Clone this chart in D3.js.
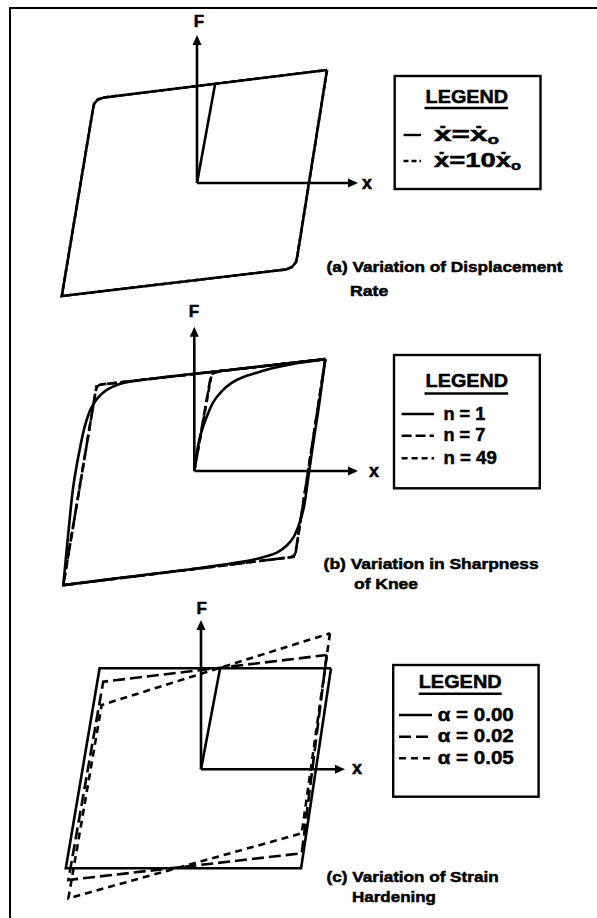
<!DOCTYPE html>
<html>
<head>
<meta charset="utf-8">
<script src="https://cdn.jsdelivr.net/npm/d3@7"></script>
<style>
  html, body { margin: 0; padding: 0; background: #fff; }
  svg { display: block; }
  text { font-family: "Liberation Sans", Arial, sans-serif; font-weight: bold; fill: #000;
         stroke: #000; stroke-width: 0.5px; }
</style>
</head>
<body>
<script>
// ---------- Data: hysteresis loops in normalized units (x = displacement, F = force) ----------

// (a) displacement rate: the model is rate independent, both rates trace the same loop
const rateSlowLoop = [[1.00,1.00],[0.773,-0.637],[0.762,-0.699],[0.731,-0.743],[0.685,-0.765],
  [-1.04,-1.00],[-0.804,0.628],[-0.792,0.699],[-0.762,0.739],[-0.715,0.757],[1.00,1.00]];
const rateFastLoop = [[1.00,1.00],[0.773,-0.637],[0.762,-0.699],[0.731,-0.743],[0.685,-0.765],
  [-1.04,-1.00],[-0.804,0.628],[-0.792,0.699],[-0.762,0.739],[-0.715,0.757],[1.00,1.00]];
const rateLoading = [[0,0],[0.14,0.88]];

// (b) sharpness of knee
const kneeN1Down = [[1.00,0.99],[0.947,0.54],[0.904,0.215],[0.865,-0.10],[0.835,-0.33],[0.80,-0.47],
  [0.76,-0.58],[0.71,-0.655],[0.64,-0.715],[0.55,-0.755],[0.45,-0.785],[0.044,-0.858],[-0.5,-0.936],[-1.00,-1.01]];
const kneeN1Up = [[-1.00,-1.01],[-0.962,-0.551],[-0.924,-0.139],[-0.88,0.16],[-0.835,0.40],[-0.79,0.55],
  [-0.735,0.65],[-0.665,0.72],[-0.57,0.77],[-0.44,0.80],[0.3,0.898],[1.00,0.99]];
const kneeN1Loading = [[0,0],[0.023,0.186],[0.051,0.333],[0.095,0.48],[0.145,0.61],[0.209,0.705],
  [0.285,0.78],[0.374,0.832],[0.476,0.87],[0.603,0.912],[0.75,0.948],[1.00,0.99]];
const kneeN7Loop = [[1.00,0.99],[0.776,-0.70],[0.766,-0.742],[0.74,-0.762],[0.70,-0.768],
  [-1.00,-1.01],[-0.754,0.70],[-0.744,0.742],[-0.725,0.762],[-0.69,0.768],[1.00,0.99]];
const kneeN7Loading = [[0,0],[0.12,0.80],[0.14,0.862],[0.2,0.884],[1.00,0.99]];
const kneeN49Loop = [[1.00,0.99],[0.769,-0.758],[-1.00,-1.01],[-0.745,0.761],[1.00,0.99]];
const kneeN49Loading = [[0,0],[0.135,0.876]];

// (c) strain hardening
const hardA000Loop = [[1.00,1.01],[0.77,-0.99],[-1.04,-0.99],[-0.78,1.01],[1.00,1.01]];
const hardA002Loop = [[0.967,1.143],[0.775,-0.84],[-1.02,-1.107],[-0.752,0.876],[0.967,1.143]];
const hardA005Loop = [[0.992,1.36],[0.775,-0.64],[-1.02,-1.29],[-0.764,0.643],[0.992,1.36]];
const hardLoading = [[0,0],[0.147,1.01]];

// Legend and caption texts
const legendTitle = "LEGEND";
const rateLabels = [["ẋ=ẋ", "o"], ["ẋ=10ẋ", "o"]];
const kneeLabels = ["n = 1", "n = 7", "n = 49"];
const hardLabels = ["α = 0.00", "α = 0.02", "α = 0.05"];
const captions = [
  ["(a) Variation of Displacement", "Rate"],
  ["(b) Variation in Sharpness", "of Knee"],
  ["(c) Variation of Strain", "Hardening"]
];

// ---------- Layout ----------
const W = 597, H = 918;
const STROKE = 2.6;
const DASH = { solid: null, rate: "5,3", n7: "10,4", n49: "6,4", a002: "12,5", a005: "7,5" };

const panels = [
  { ox: 197, oy: 183, sx: 130, sy: 113, fTip: 35, xTip: 358,
    fLab: [199, 27], xLab: [367, 188.5],
    box: [394.7, 76, 145.8, 113], title: [466.9, 103.3, 82.6], uline: [424.5, 508.2, 108],
    sample: [403.5, 421], rowsY: [135, 161], textX: 434, textW: [65, 87], rowFont: 21,
    cap: [[326.6, 272, 236], [350, 296, 38.3]] },
  { ox: 194.3, oy: 471, sx: 131, sy: 113, fTip: 326.7, xTip: 358,
    fLab: [194, 317], xLab: [374, 477],
    box: [394, 355, 145.8, 133.3], title: [466.9, 386.7, 82.6], uline: [424.5, 508.2, 393.5],
    sample: [401.6, 434], rowsY: [414, 435.7, 458.3], textX: 443.5, textW: [41.8, 41.8, 53.3], rowFont: 19,
    cap: [[323.6, 569, 215], [354, 588.5, 64]] },
  { ox: 201, oy: 769.3, sx: 130, sy: 100, fTip: 620, xTip: 345,
    fLab: [201.7, 613.5], xLab: [357, 774],
    box: [393.2, 665, 145.4, 131.7], title: [460.2, 688.3, 83], uline: [418.7, 501.7, 693.8],
    sample: [399, 432], rowsY: [715, 736.7, 758.3], textX: 437.8, textW: [76, 76, 76], rowFont: 19,
    cap: [[326.6, 881.5, 172], [352, 902, 84]] }
];

const svg = d3.select("body").append("svg").attr("width", W).attr("height", H);

// page frame (left and top edges)
svg.append("path").attr("d", `M10,${H} L10,8 L${W},8`)
  .attr("fill", "none").attr("stroke", "#000").attr("stroke-width", 2);

function scalesFor(p) {
  return {
    x: d3.scaleLinear().domain([-1, 1]).range([p.ox - p.sx, p.ox + p.sx]),
    y: d3.scaleLinear().domain([-1, 1]).range([p.oy + p.sy, p.oy - p.sy])
  };
}

function drawSeries(g, s, pts, dash, curve) {
  const line = d3.line().x(d => s.x(d[0])).y(d => s.y(d[1])).curve(curve || d3.curveLinear);
  g.append("path").attr("d", line(pts))
    .attr("fill", "none").attr("stroke", "#000").attr("stroke-width", STROKE)
    .attr("stroke-linejoin", "miter").attr("stroke-dasharray", dash);
}

function drawAxes(g, p) {
  const ah = 10, aw = 4.5;
  g.append("line").attr("x1", p.ox).attr("y1", p.oy).attr("x2", p.ox).attr("y2", p.fTip + ah - 1)
    .attr("stroke", "#000").attr("stroke-width", STROKE);
  g.append("path").attr("d", `M${p.ox},${p.fTip} L${p.ox - aw},${p.fTip + ah} L${p.ox + aw},${p.fTip + ah} Z`);
  g.append("line").attr("x1", p.ox).attr("y1", p.oy).attr("x2", p.xTip - ah + 1).attr("y2", p.oy)
    .attr("stroke", "#000").attr("stroke-width", STROKE);
  g.append("path").attr("d", `M${p.xTip},${p.oy} L${p.xTip - ah},${p.oy - aw} L${p.xTip - ah},${p.oy + aw} Z`);
  g.append("text").attr("x", p.fLab[0]).attr("y", p.fLab[1]).attr("text-anchor", "middle")
    .attr("font-size", 17).text("F");
  g.append("text").attr("x", p.xLab[0]).attr("y", p.xLab[1]).attr("text-anchor", "middle")
    .attr("font-size", 18).text("x");
}

function drawLegend(g, p, rows) {
  const [bx, by, bw, bh] = p.box;
  g.append("rect").attr("x", bx).attr("y", by).attr("width", bw).attr("height", bh)
    .attr("fill", "none").attr("stroke", "#000").attr("stroke-width", 2.4);
  g.append("text").attr("x", p.title[0]).attr("y", p.title[1]).attr("text-anchor", "middle")
    .attr("font-size", 19).attr("textLength", p.title[2]).attr("lengthAdjust", "spacingAndGlyphs")
    .text(legendTitle);
  g.append("line").attr("x1", p.uline[0]).attr("x2", p.uline[1]).attr("y1", p.uline[2]).attr("y2", p.uline[2])
    .attr("stroke", "#000").attr("stroke-width", 2.4);
  rows.forEach((r, i) => {
    const y = p.rowsY[i];
    g.append("line").attr("x1", p.sample[0]).attr("x2", p.sample[1]).attr("y1", y).attr("y2", y)
      .attr("stroke", "#000").attr("stroke-width", 2.4).attr("stroke-dasharray", r.dash);
    const t = g.append("text").attr("x", p.textX).attr("y", y + p.rowFont * 0.3)
      .attr("font-size", p.rowFont).attr("textLength", p.textW[i]).attr("lengthAdjust", "spacingAndGlyphs");
    if (Array.isArray(r.label)) {
      t.append("tspan").text(r.label[0]);
      t.append("tspan").attr("font-size", p.rowFont * 0.6).attr("dy", 3).text(r.label[1]);
    } else {
      t.text(r.label);
    }
  });
}

function drawCaption(g, p, lines) {
  lines.forEach((txt, i) => {
    const [x, y, w] = p.cap[i];
    g.append("text").attr("x", x).attr("y", y).attr("font-size", 15)
      .attr("textLength", w).attr("lengthAdjust", "spacingAndGlyphs").text(txt);
  });
}

// ---------- Panel (a) ----------
{
  const p = panels[0], s = scalesFor(p), g = svg.append("g");
  drawSeries(g, s, rateFastLoop, DASH.rate);
  drawSeries(g, s, rateSlowLoop, DASH.solid);
  drawSeries(g, s, rateLoading, DASH.solid);
  drawAxes(g, p);
  drawLegend(g, p, [{ dash: DASH.solid, label: rateLabels[0] }, { dash: DASH.rate, label: rateLabels[1] }]);
  drawCaption(g, p, captions[0]);
}

// ---------- Panel (b) ----------
{
  const p = panels[1], s = scalesFor(p), g = svg.append("g");
  drawSeries(g, s, kneeN49Loop, DASH.n49);
  drawSeries(g, s, kneeN49Loading, DASH.n49);
  drawSeries(g, s, kneeN7Loop, DASH.n7);
  drawSeries(g, s, kneeN7Loading, DASH.n7);
  drawSeries(g, s, kneeN1Down, DASH.solid, d3.curveCatmullRom);
  drawSeries(g, s, kneeN1Up, DASH.solid, d3.curveCatmullRom);
  drawSeries(g, s, kneeN1Loading, DASH.solid, d3.curveCatmullRom);
  drawAxes(g, p);
  drawLegend(g, p, [
    { dash: DASH.solid, label: kneeLabels[0] },
    { dash: DASH.n7, label: kneeLabels[1] },
    { dash: DASH.n49, label: kneeLabels[2] }]);
  drawCaption(g, p, captions[1]);
}

// ---------- Panel (c) ----------
{
  const p = panels[2], s = scalesFor(p), g = svg.append("g");
  drawSeries(g, s, hardA005Loop, DASH.a005);
  drawSeries(g, s, hardA002Loop, DASH.a002);
  drawSeries(g, s, hardA000Loop, DASH.solid);
  drawSeries(g, s, hardLoading, DASH.solid);
  drawAxes(g, p);
  drawLegend(g, p, [
    { dash: DASH.solid, label: hardLabels[0] },
    { dash: DASH.a002, label: hardLabels[1] },
    { dash: DASH.a005, label: hardLabels[2] }]);
  drawCaption(g, p, captions[2]);
}
</script>
</body>
</html>
